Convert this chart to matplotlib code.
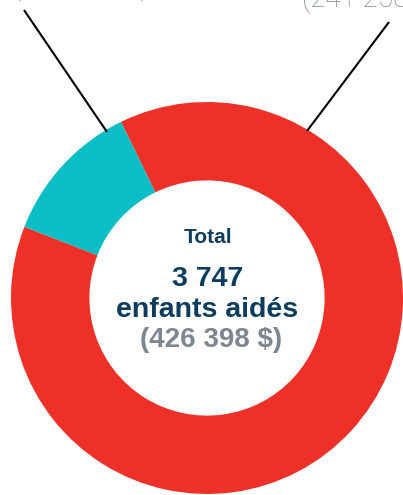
import matplotlib
matplotlib.use("Agg")
import matplotlib.pyplot as plt

# ---- data ----
categories = ["Catégorie A", "Catégorie B"]
children = [445, 3302]
colors = ["#0BBDC4", "#EE3128"]
total_children = "3 747"
total_amount = "(426 398 $)"
label_amounts = ["(185 148 $)", "(241 250 $)"]

W, H = 403, 495
CX, CY, R = 207, 298, 196  # pixel layout of the donut

fig = plt.figure(figsize=(W / 100, H / 100), dpi=100)
ax = fig.add_axes([0, 0, 1, 1])

def px(x, y):
    return ((x - CX) / R, (CY - y) / R)

ax.pie(children, colors=colors, startangle=116, counterclock=True,
       radius=1.0, wedgeprops=dict(width=0.40, edgecolor="none"))
ax.set_xlim(-CX / R, (W - CX) / R)
ax.set_ylim(-(H - CY) / R, CY / R)
ax.set_aspect("equal")
ax.axis("off")

font = "Liberation Sans"
navy = "#0D3D5E"
gray = "#7D8691"

ax.text(*px(208, 243), "Total", ha="center", va="baseline",
        fontsize=15, fontweight="bold", color=navy, family=font)
ax.text(*px(207.5, 286), total_children, ha="center", va="baseline",
        fontsize=20.5, fontweight="bold", color=navy, family=font)
ax.text(*px(207.5, 317), "enfants aidés", ha="center", va="baseline",
        fontsize=20.5, fontweight="bold", color=navy, family=font)
ax.text(*px(211, 347), total_amount, ha="center", va="baseline",
        fontsize=20, fontweight="bold", color=gray, family=font)

# leader lines
ax.plot(*zip(px(24, 10), px(107, 132)), color="black", lw=1.5,
        solid_capstyle="butt")
ax.plot(*zip(px(389, 22), px(307, 131)), color="black", lw=1.5,
        solid_capstyle="butt")

# cut-off labels at top (light weight)
light = ["Roboto", "Liberation Sans"]
ax.text(*px(13, -5), label_amounts[0], ha="left", va="baseline",
        fontsize=20, fontweight="light", color=gray, family=light)
ax.text(*px(302, 7), label_amounts[1], ha="left", va="baseline",
        fontsize=20, fontweight="light", color=gray, family=light)

fig.savefig("out.png", dpi=100, facecolor="white")
